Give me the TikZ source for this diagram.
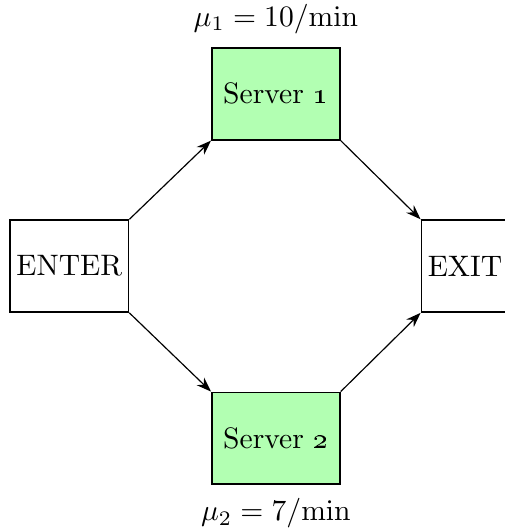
\documentclass[tikz,border=0pt]{standalone}
\usepackage{amsmath, amssymb}
\usepackage{tikz}
\usetikzlibrary{arrows.meta, positioning}

\begin{document}
\begin{tikzpicture}[
    box/.style={draw, semithick, minimum height=31pt, inner xsep=2pt},
    server/.style={box, fill=green!30, minimum width=43.2pt},
    flow/.style={-{Stealth[length=5pt, width=3.6pt]}},
    ]
    \useasboundingbox (-23.4pt,-89.5pt) rectangle (147.2pt,89.9pt);

    % Entry and exit
    \node[box, minimum width=40pt] (enter) at (0,0) {ENTER};
    \node[box, minimum width=29.4pt, right=98.4pt of enter] (exit) {EXIT};

    % Servers
    \node[server, above right=26.6pt and 27.6pt of enter] (srv1) {Server \oldstylenums{1}};
    \node[server, below right=26.6pt and 27.6pt of enter] (srv2) {Server \oldstylenums{2}};

    % Service rates
    \node[above=1pt of srv1] (mu1) {$\mu_1 = 10/\mathrm{min}$};
    \node[below=1pt of srv2] (mu2) {$\mu_2 = 7/\mathrm{min}$};

    % Flow through the servers
    \draw[flow] (enter.north east) -- (srv1.south west);
    \draw[flow] (enter.south east) -- (srv2.north west);
    \draw[flow] (srv1.south east) -- (exit.north west);
    \draw[flow] (srv2.north east) -- (exit.south west);
\end{tikzpicture}
\end{document}
